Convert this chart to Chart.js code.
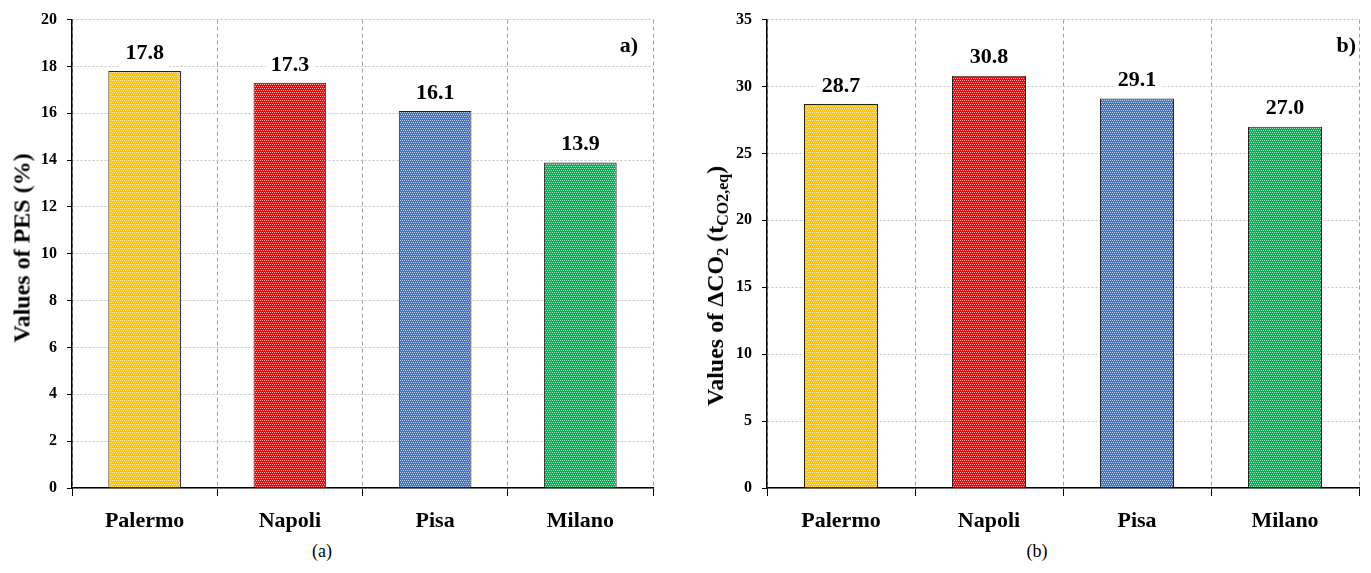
<!DOCTYPE html>
<html lang="en">
<head>
<meta charset="UTF-8">
<title>PES and CO2 savings by city</title>
<script src="https://cdn.jsdelivr.net/npm/chart.js"></script>
<style>
  body { margin: 0; background: #fff; font-family: "Liberation Serif", "Times New Roman", serif; }
  #page { position: relative; width: 1371px; height: 573px; overflow: hidden; }
  .box { position: absolute; top: 0; height: 540px; }
  .ytitle { position: absolute; font-weight: bold; font-size: 24px; white-space: nowrap;
            transform: translate(-50%, -50%) rotate(-90deg); }
  .ytitle sub { font-size: 16px; vertical-align: -5px; }
  .tag { position: absolute; font-weight: bold; font-size: 22px; transform: translate(-100%, -50%); }
  .cap { position: absolute; font-size: 18px; transform: translate(-50%, -50%); }
</style>
</head>
<body>
<div id="page">
  <div class="box" style="left:0;width:690px"><canvas id="pesChart"></canvas></div>
  <div class="box" style="left:690px;width:681px"><canvas id="co2Chart"></canvas></div>

  <div class="ytitle" style="left:22px;top:248px">Values of PES (%)</div>
  <div class="ytitle" style="left:717px;top:286px">Values of &Delta;CO<sub>2</sub> (t<sub>CO2,eq</sub>)</div>

  <div class="tag" style="left:638px;top:45px">a)</div>
  <div class="tag" style="left:1356px;top:45px">b)</div>

  <div class="cap" style="left:322px;top:551px">(a)</div>
  <div class="cap" style="left:1037px;top:551px">(b)</div>
</div>

<script>
  // data
  const cities = ['Palermo', 'Napoli', 'Pisa', 'Milano'];
  const pesValues = [17.8, 17.3, 16.1, 13.9];
  const co2Values = [28.7, 30.8, 29.1, 27.0];
  const pesTicks = [0, 2, 4, 6, 8, 10, 12, 14, 16, 18, 20];
  const co2Ticks = [0, 5, 10, 15, 20, 25, 30, 35];
  const barColors = ['#FFC000', '#FF0000', '#4472C4', '#00B050'];

  // dotted fill like the original bars
  function dots(color) {
    const c = document.createElement('canvas');
    c.width = 4; c.height = 4;
    const g = c.getContext('2d');
    g.fillStyle = color;
    g.fillRect(0, 0, 4, 4);
    g.fillStyle = 'rgba(255,255,255,0.65)';
    g.fillRect(0, 0, 1, 1); g.fillRect(2, 0, 1, 1);
    g.fillRect(1, 2, 1, 1); g.fillRect(3, 2, 1, 1);
    return g.createPattern(c, 'repeat');
  }

  const valueLabels = {
    id: 'valueLabels',
    afterDatasetsDraw(chart) {
      const ctx = chart.ctx;
      const meta = chart.getDatasetMeta(0);
      ctx.save();
      ctx.font = 'bold 22px "Liberation Serif"';
      ctx.textAlign = 'center';
      ctx.textBaseline = 'middle';
      meta.data.forEach((bar, i) => {
        const txt = chart.data.datasets[0].data[i].toFixed(1);
        const w = ctx.measureText(txt).width + 10;
        const cy = bar.y - 19;
        ctx.fillStyle = '#fff';
        ctx.fillRect(bar.x - w / 2, cy - 13, w, 28);
        ctx.fillStyle = '#000';
        ctx.fillText(txt, bar.x, cy + 1);
      });
      ctx.restore();
    }
  };

  function makeChart(id, values, ticks, axisWidth, padRight) {
    return new Chart(document.getElementById(id), {
      type: 'bar',
      data: {
        labels: cities,
        datasets: [{
          data: values,
          backgroundColor: barColors.map(dots),
          borderColor: '#222',
          borderWidth: 1,
          barPercentage: 0.5,
          categoryPercentage: 1.0
        }]
      },
      options: {
        responsive: true,
        maintainAspectRatio: false,
        animation: false,
        layout: { padding: { top: 11, right: padRight, bottom: 0, left: 0 } },
        plugins: { legend: { display: false }, tooltip: { enabled: false } },
        scales: {
          x: {
            offset: true,
            grid: { offset: true, color: '#a0a0a0', tickColor: '#000', tickLength: 8, tickBorderDash: [] },
            border: { display: true, color: '#000', width: 1.5, dash: [4, 3] },
            ticks: { color: '#000', padding: 12, font: { family: 'Liberation Serif', size: 22, weight: 'bold' } },
            afterFit(s) { s.height = 52; }
          },
          y: {
            min: ticks[0],
            max: ticks[ticks.length - 1],
            afterBuildTicks(s) { s.ticks = ticks.map(v => ({ value: v })); },
            ticks: { color: '#000', padding: 10, font: { family: 'Liberation Serif', size: 16, weight: 'bold' } },
            grid: { color: '#c4c4c4', tickColor: '#000', tickLength: 5, tickBorderDash: [] },
            border: { display: true, color: '#000', width: 1.5, dash: [2, 2] },
            afterFit(s) { s.width = axisWidth; }
          }
        }
      },
      plugins: [valueLabels]
    });
  }

  makeChart('pesChart', pesValues, pesTicks, 72, 37);
  makeChart('co2Chart', co2Values, co2Ticks, 77, 12);
</script>
</body>
</html>
